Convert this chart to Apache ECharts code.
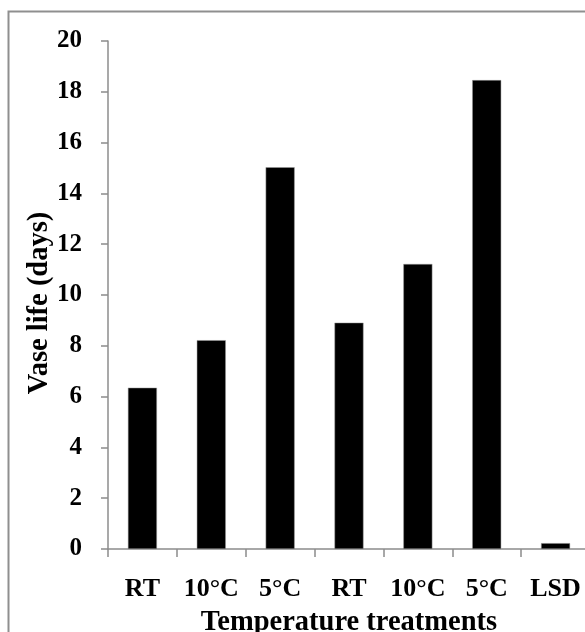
<!DOCTYPE html>
<html>
<head>
<meta charset="utf-8">
<script src="https://cdn.jsdelivr.net/npm/echarts@6/dist/echarts.min.js"></script>
<style>
html,body{margin:0;padding:0;background:#fff;}
#main{width:585px;height:632px;}
</style>
</head>
<body>
<div id="main"></div>
<script>
const categories = ['RT', '10°C', '5°C', 'RT', '10°C', '5°C', 'LSD'];
const vaseLife = [6.35, 8.22, 15.03, 8.91, 11.22, 18.46, 0.23];
const yTicks = {min: 0, max: 20, interval: 2};
const xTitle = 'Temperature treatments';
const yTitle = 'Vase life (days)';

const font = '"Liberation Serif", "Times New Roman", serif';
const chart = echarts.init(document.getElementById('main'));
chart.setOption({
  animation: false,
  backgroundColor: '#fff',
  graphic: [{
    type: 'rect',
    shape: {x: 8.5, y: 11.5, width: 700, height: 700},
    style: {fill: 'none', stroke: '#8f8f8f', lineWidth: 2},
    silent: true
  }],
  grid: {left: 108, top: 41, bottom: 83, right: -5, containLabel: false, outerBoundsMode: 'none'},
  xAxis: {
    type: 'category',
    data: categories,
    boundaryGap: true,
    name: xTitle,
    nameLocation: 'middle',
    nameGap: 59,
    nameMoveOverlap: false,
    nameTextStyle: {fontFamily: font, fontWeight: 'bold', fontSize: 28.5, color: '#000'},
    axisLine: {lineStyle: {color: '#8c8c8c', width: 1.5}},
    axisTick: {show: true, length: 8, alignWithLabel: false, lineStyle: {color: '#8c8c8c', width: 1.5}},
    axisLabel: {fontFamily: font, fontWeight: 'bold', fontSize: 26, color: '#000', margin: 27, interval: 0}
  },
  yAxis: {
    type: 'value',
    min: yTicks.min,
    max: yTicks.max,
    interval: yTicks.interval,
    name: yTitle,
    nameLocation: 'middle',
    nameGap: 54,
    nameRotate: 90,
    nameMoveOverlap: false,
    nameTextStyle: {fontFamily: font, fontWeight: 'bold', fontSize: 28.5, color: '#000', padding: [0, 16, 0, 0]},
    axisLine: {show: true, lineStyle: {color: '#8c8c8c', width: 1.5}},
    axisTick: {show: true, length: 7, lineStyle: {color: '#8c8c8c', width: 1.5}},
    splitLine: {show: false},
    axisLabel: {fontFamily: font, fontWeight: 'bold', fontSize: 25, color: '#000', margin: 26}
  },
  series: [{
    type: 'bar',
    data: vaseLife,
    barWidth: 29,
    itemStyle: {color: '#000', borderColor: '#9a9a9a', borderWidth: 0.5}
  }]
});
</script>
</body>
</html>
